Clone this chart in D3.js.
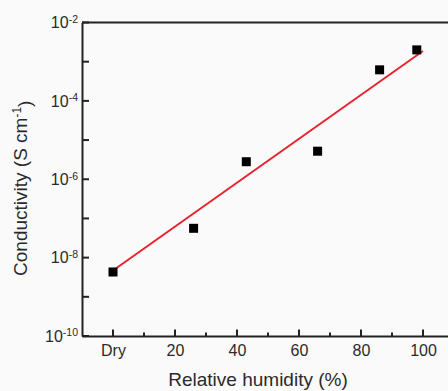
<!DOCTYPE html>
<html>
<head>
<meta charset="utf-8">
<script src="https://cdn.jsdelivr.net/npm/d3@7"></script>
<style>
  body { margin: 0; background: #fafafa; }
  svg { display: block; font-family: "Liberation Sans", Arial, sans-serif; }
  .axis text { fill: #2a2a2a; font-size: 16px; }
</style>
</head>
<body>
<div class="chart"></div>
<script>
// measured points
let humidity = [0, 26, 43, 66, 86, 98];
let conductivity = [4.3e-9, 5.6e-8, 2.8e-6, 5.2e-6, 6.2e-4, 2.0e-3];

// linear fit (log scale) end points
let fitX = [0, 100];
let fitY = [4.7e-9, 1.87e-3];

let xTicks = [0, 20, 40, 60, 80, 100];
let xTickLabels = ["Dry", "20", "40", "60", "80", "100"];
let xMinor = [10, 30, 50, 70, 90];
let yTicks = [1e-10, 1e-9, 1e-8, 1e-7, 1e-6, 1e-5, 1e-4, 1e-3, 1e-2];

let svgWidth = 448;
let svgHeight = 391;

let margin = { top: 22.5, left: 82, bottom: 55 };
let height = svgHeight - margin.top - margin.bottom;

let svg = d3.select(".chart")
    .append("svg")
    .attr("width", svgWidth)
    .attr("height", svgHeight);

svg.append("rect")
    .attr("width", svgWidth)
    .attr("height", svgHeight)
    .attr("fill", "#fafafa");

let x = d3.scaleLinear()
    .domain([-10, 110])
    .range([margin.left, margin.left + 372]);

let y = d3.scaleLog()
    .domain([1e-10, 1e-2])
    .range([margin.top + height, margin.top]);

let ink = "#222";

// top frame line
svg.append("line")
    .attr("x1", x(-10))
    .attr("x2", x(110))
    .attr("y1", y(1e-2))
    .attr("y2", y(1e-2))
    .attr("stroke", ink)
    .attr("stroke-width", 2);

// x ticks, pointing inward
svg.selectAll("line.xminor")
    .data(xMinor)
    .enter()
    .append("line")
    .attr("x1", d => x(d)).attr("x2", d => x(d))
    .attr("y1", y(1e-10)).attr("y2", y(1e-10) - 3.5)
    .attr("stroke", ink).attr("stroke-width", 2);

svg.selectAll("line.xmajor")
    .data(xTicks)
    .enter()
    .append("line")
    .attr("x1", d => x(d)).attr("x2", d => x(d))
    .attr("y1", y(1e-10)).attr("y2", y(1e-10) - 6.5)
    .attr("stroke", ink).attr("stroke-width", 2);

// y ticks, pointing inward
svg.selectAll("line.ytick")
    .data(yTicks)
    .enter()
    .append("line")
    .attr("x1", x(-10)).attr("x2", x(-10) + 7)
    .attr("y1", d => y(d)).attr("y2", d => y(d))
    .attr("stroke", ink).attr("stroke-width", 2);

let xAxis = svg.append("g")
    .attr("class", "axis")
    .attr("transform", `translate(0, ${y(1e-10)})`)
    .call(d3.axisBottom(x)
        .tickValues(xTicks)
        .tickSize(0)
        .tickPadding(9)
        .tickFormat((d, i) => xTickLabels[i]));
xAxis.select(".domain").attr("stroke", ink).attr("stroke-width", 2);

let yAxis = svg.append("g")
    .attr("class", "axis")
    .attr("transform", `translate(${x(-10)}, 0)`)
    .call(d3.axisLeft(y)
        .tickValues(yTicks)
        .tickSize(0)
        .tickPadding(4)
        .tickFormat(""));
yAxis.select(".domain").attr("stroke", ink).attr("stroke-width", 2);

yAxis.selectAll(".tick text").each(function (d) {
    let p = Math.round(Math.log10(d));
    if (p % 2 !== 0) return;
    let t = d3.select(this);
    t.append("tspan").text("10");
    t.append("tspan")
        .attr("dy", "-0.5em")
        .style("font-size", "10.5px")
        .text(p);
});

// fit line
svg.append("line")
    .attr("x1", x(fitX[0]))
    .attr("y1", y(fitY[0]))
    .attr("x2", x(fitX[1]))
    .attr("y2", y(fitY[1]))
    .attr("stroke", "#e8232d")
    .attr("stroke-width", 2);

// data squares
svg.selectAll("rect.pt")
    .data(humidity)
    .enter()
    .append("rect")
    .attr("class", "pt")
    .attr("x", d => x(d) - 4.5)
    .attr("y", (d, i) => y(conductivity[i]) - 4.5)
    .attr("width", 9)
    .attr("height", 9)
    .attr("fill", "#000");

// axis titles
svg.append("text")
    .attr("x", (x(-10) + x(110)) / 2 - 10)
    .attr("y", 386)
    .attr("text-anchor", "middle")
    .attr("font-size", 19)
    .attr("fill", "#2a2a2a")
    .text("Relative humidity (%)");

let yTitle = svg.append("text")
    .attr("transform", `translate(27, ${margin.top + height / 2 + 9}) rotate(-90)`)
    .attr("text-anchor", "middle")
    .attr("font-size", 19)
    .attr("fill", "#2a2a2a");
yTitle.append("tspan").text("Conductivity (S cm");
yTitle.append("tspan").attr("dy", "-0.5em").attr("font-size", 12).text("-1");
yTitle.append("tspan").attr("dy", "0.5em").text(")");
</script>
</body>
</html>
